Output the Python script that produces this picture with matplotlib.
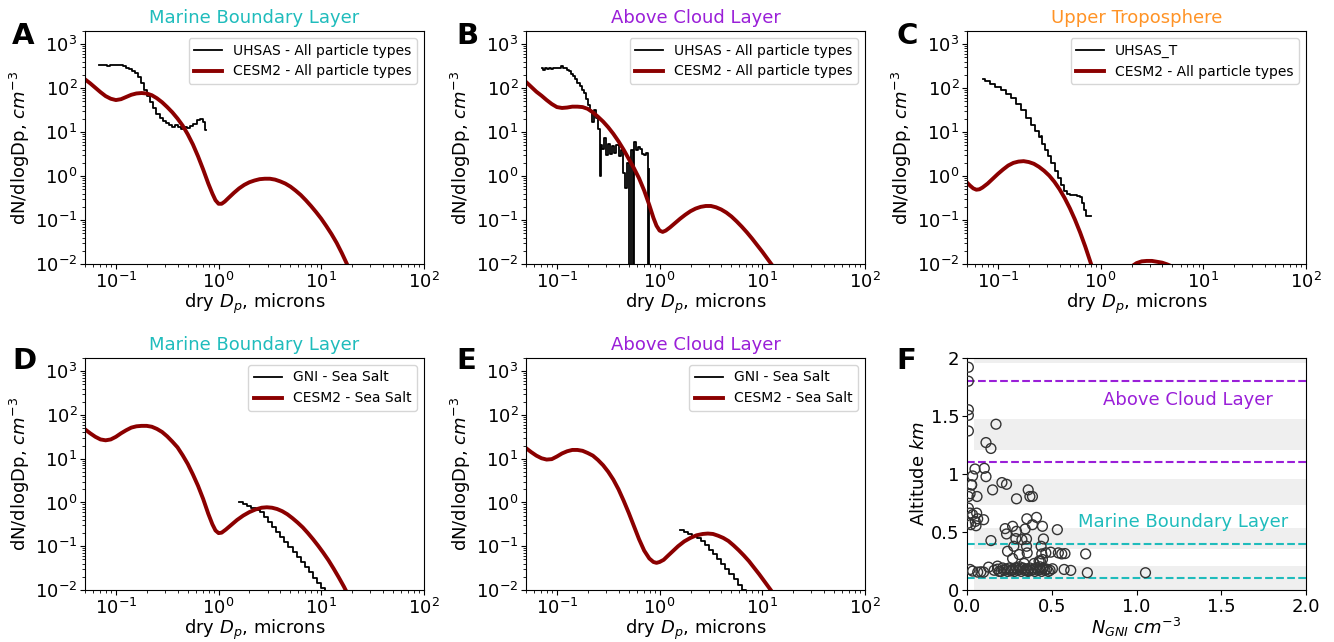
import numpy as np
import matplotlib
matplotlib.use("Agg")
from matplotlib import pyplot as plt

# ---- data (log10 of diameter in microns, log10 of dN/dlogDp) ----
# A : marine boundary layer, all particles
a_uhsas_logd = [-1.16, -1.13, -1.10, -1.07, -1.04, -1.01, -0.98, -0.95, -0.92, -0.89, -0.86, -0.83,
                -0.80, -0.77, -0.74, -0.71, -0.68, -0.65, -0.62, -0.59, -0.56, -0.53, -0.50, -0.47,
                -0.44, -0.41, -0.38, -0.35, -0.32, -0.29, -0.26, -0.23, -0.20, -0.17, -0.14, -0.12]
a_uhsas_logn = [2.53, 2.52, 2.53, 2.50, 2.52, 2.53, 2.52, 2.53, 2.50, 2.47, 2.44, 2.40,
                2.35, 2.25, 2.12, 1.97, 1.82, 1.68, 1.55, 1.42, 1.33, 1.25, 1.20, 1.17,
                1.12, 1.16, 1.11, 1.08, 1.12, 1.10, 1.14, 1.18, 1.28, 1.31, 1.22, 1.05]
a_cesm_logd = [-1.30, -1.25, -1.20, -1.15, -1.10, -1.05, -1.00, -0.95, -0.90, -0.85, -0.80, -0.75,
               -0.70, -0.65, -0.60, -0.55, -0.50, -0.45, -0.40, -0.35, -0.30, -0.25, -0.20, -0.15,
               -0.10, -0.06, -0.03, 0.00, 0.03, 0.06, 0.10, 0.15, 0.20, 0.25, 0.30, 0.35,
               0.40, 0.45, 0.50, 0.55, 0.60, 0.65, 0.70, 0.75, 0.80, 0.85, 0.90, 0.95,
               1.00, 1.05, 1.10, 1.15, 1.20, 1.25, 1.30]
a_cesm_logn = [2.20, 2.11, 2.01, 1.91, 1.82, 1.76, 1.73, 1.75, 1.80, 1.85, 1.88, 1.89,
               1.88, 1.84, 1.77, 1.68, 1.57, 1.45, 1.31, 1.15, 0.95, 0.72, 0.45, 0.15,
               -0.17, -0.40, -0.55, -0.63, -0.63, -0.58, -0.49, -0.38, -0.28, -0.20, -0.14, -0.10,
               -0.07, -0.06, -0.06, -0.08, -0.12, -0.17, -0.24, -0.33, -0.43, -0.55, -0.68, -0.82,
               -0.97, -1.14, -1.32, -1.52, -1.75, -2.00, -2.27]

# B : above cloud layer, all particles (-5 = empty bin)
b_uhsas_logd = [-1.15, -1.13, -1.11, -1.09, -1.07, -1.05, -1.03, -1.01, -0.99, -0.97, -0.95, -0.93,
                -0.91, -0.89, -0.87, -0.85, -0.83, -0.81, -0.79, -0.77, -0.75, -0.73, -0.71, -0.69,
                -0.67, -0.65, -0.63, -0.61, -0.59, -0.58, -0.57, -0.55, -0.53, -0.51, -0.49, -0.47,
                -0.45, -0.43, -0.41, -0.39, -0.37, -0.35, -0.33, -0.31, -0.29, -0.27, -0.255, -0.24,
                -0.22, -0.20, -0.18, -0.16, -0.14, -0.12, -0.11, -0.10]
b_uhsas_logn = [2.45, 2.42, 2.46, 2.43, 2.45, 2.44, 2.46, 2.45, 2.46, 2.45, 2.50, 2.46,
                2.45, 2.42, 2.38, 2.33, 2.27, 2.20, 2.12, 2.05, 1.97, 1.88, 1.76, 1.62,
                1.48, 1.24, 1.50, 1.32, 1.08, 0.00, 0.70, 0.62, 0.86, 0.48, 0.72, 0.50,
                0.68, 0.52, 0.70, 0.45, 0.60, 0.06, -0.28, 0.30, -5.0, 0.59, -5.0, 0.78,
                0.60, 0.67, 0.62, 0.50, 0.48, 0.52, -5.0, 0.17]
b_cesm_logd = [-1.30, -1.25, -1.20, -1.15, -1.10, -1.05, -1.00, -0.95, -0.90, -0.85, -0.80, -0.75,
               -0.70, -0.65, -0.60, -0.55, -0.50, -0.45, -0.40, -0.35, -0.30, -0.25, -0.20, -0.15,
               -0.10, -0.06, -0.03, 0.00, 0.03, 0.06, 0.10, 0.15, 0.20, 0.25, 0.30, 0.35,
               0.40, 0.45, 0.50, 0.55, 0.60, 0.65, 0.70, 0.75, 0.80, 0.85, 0.90, 0.95,
               1.00, 1.05, 1.10, 1.15]
b_cesm_logn = [2.14, 2.03, 1.92, 1.83, 1.73, 1.64, 1.57, 1.55, 1.56, 1.58, 1.58, 1.57,
               1.53, 1.45, 1.35, 1.24, 1.11, 0.96, 0.79, 0.60, 0.39, 0.18, -0.05, -0.33,
               -0.66, -0.95, -1.13, -1.24, -1.27, -1.24, -1.17, -1.07, -0.97, -0.88, -0.80, -0.74,
               -0.70, -0.68, -0.68, -0.71, -0.76, -0.83, -0.92, -1.03, -1.15, -1.28, -1.42, -1.57,
               -1.72, -1.88, -2.04, -2.20]

# C : upper troposphere
c_uhsas_logd = [-1.15, -1.10, -1.05, -1.00, -0.95, -0.90, -0.85, -0.80, -0.75, -0.70, -0.66, -0.62,
                -0.59, -0.58, -0.56, -0.53, -0.50, -0.46, -0.43, -0.40, -0.37, -0.34, -0.31, -0.28,
                -0.25, -0.22, -0.19, -0.17, -0.15, -0.13, -0.09]
c_uhsas_logn = [2.22, 2.16, 2.10, 2.03, 1.95, 1.86, 1.77, 1.64, 1.50, 1.33, 1.16, 1.02,
                0.89, 0.92, 0.74, 0.59, 0.45, 0.29, 0.12, -0.05, -0.20, -0.33, -0.40, -0.42,
                -0.44, -0.45, -0.48, -0.62, -0.78, -0.91, -0.91]
c_cesm_logd = [-1.30, -1.27, -1.24, -1.21, -1.18, -1.15, -1.10, -1.05, -1.00, -0.95, -0.90, -0.85,
               -0.80, -0.75, -0.70, -0.65, -0.60, -0.55, -0.50, -0.45, -0.40, -0.35, -0.30, -0.25,
               -0.20, -0.15, -0.10, -0.05, 0.05, 0.15, 0.25, 0.30, 0.35, 0.40, 0.45, 0.50,
               0.55, 0.60, 0.65, 0.70, 0.80, 0.95, 1.10]
c_cesm_logn = [-0.15, -0.22, -0.28, -0.31, -0.30, -0.26, -0.17, -0.06, 0.05, 0.15, 0.24, 0.30,
               0.33, 0.34, 0.32, 0.28, 0.21, 0.12, 0.01, -0.13, -0.30, -0.50, -0.73, -0.99,
               -1.28, -1.60, -1.95, -2.30, -2.90, -2.60, -2.20, -2.06, -1.98, -1.94, -1.93, -1.93,
               -1.95, -1.97, -2.01, -2.06, -2.30, -2.90, -3.80]

# D : marine boundary layer, sea salt
d_gni_logd = [0.20, 0.24, 0.28, 0.32, 0.36, 0.40, 0.44, 0.48, 0.52, 0.56, 0.60, 0.64,
              0.68, 0.72, 0.76, 0.80, 0.84, 0.88, 0.92, 0.96, 1.00, 1.04]
d_gni_logn = [0.00, -0.04, -0.08, -0.12, -0.17, -0.22, -0.335, -0.45, -0.565, -0.68, -0.795, -0.91,
              -1.025, -1.14, -1.255, -1.37, -1.485, -1.60, -1.715, -1.83, -1.945, -2.06]
d_cesm_logd = [-1.30, -1.25, -1.20, -1.15, -1.10, -1.05, -1.00, -0.95, -0.90, -0.85, -0.80, -0.75,
               -0.70, -0.65, -0.60, -0.55, -0.50, -0.45, -0.40, -0.35, -0.30, -0.25, -0.20, -0.15,
               -0.10, -0.06, -0.03, 0.00, 0.03, 0.07, 0.12, 0.18, 0.24, 0.30, 0.36, 0.42,
               0.47, 0.52, 0.57, 0.62, 0.67, 0.72, 0.77, 0.82, 0.87, 0.92, 0.97, 1.02,
               1.07, 1.12, 1.17, 1.22, 1.27]
d_cesm_logn = [1.67, 1.58, 1.50, 1.44, 1.42, 1.44, 1.50, 1.58, 1.65, 1.71, 1.74, 1.75,
               1.75, 1.73, 1.68, 1.61, 1.51, 1.39, 1.26, 1.08, 0.88, 0.64, 0.38, 0.08,
               -0.26, -0.50, -0.64, -0.70, -0.69, -0.62, -0.52, -0.40, -0.30, -0.22, -0.16, -0.12,
               -0.11, -0.12, -0.15, -0.20, -0.27, -0.36, -0.46, -0.57, -0.70, -0.84, -0.99, -1.15,
               -1.32, -1.51, -1.71, -1.92, -2.15]

# E : above cloud layer, sea salt
e_gni_logd = [0.20, 0.24, 0.28, 0.32, 0.36, 0.40, 0.44, 0.48, 0.52, 0.56, 0.60, 0.64,
              0.68, 0.72, 0.76, 0.80, 0.84]
e_gni_logn = [-0.62, -0.68, -0.72, -0.76, -0.82, -0.88, -0.98, -1.08, -1.18, -1.30, -1.41, -1.52,
              -1.64, -1.76, -1.88, -2.00, -2.12]
e_cesm_logd = [-1.30, -1.25, -1.20, -1.15, -1.10, -1.05, -1.00, -0.95, -0.90, -0.85, -0.80, -0.75,
               -0.70, -0.65, -0.60, -0.55, -0.50, -0.45, -0.40, -0.35, -0.30, -0.25, -0.20, -0.15,
               -0.10, -0.06, -0.03, 0.00, 0.04, 0.08, 0.13, 0.18, 0.24, 0.30, 0.36, 0.42,
               0.47, 0.52, 0.57, 0.62, 0.67, 0.72, 0.77, 0.82, 0.87, 0.92, 0.97, 1.02,
               1.07, 1.12]
e_cesm_logn = [1.24, 1.15, 1.07, 1.01, 0.98, 0.99, 1.05, 1.12, 1.17, 1.20, 1.20, 1.18,
               1.13, 1.07, 0.97, 0.85, 0.70, 0.52, 0.30, 0.04, -0.24, -0.54, -0.84, -1.10,
               -1.28, -1.36, -1.38, -1.36, -1.31, -1.22, -1.11, -1.00, -0.89, -0.81, -0.75, -0.72,
               -0.71, -0.72, -0.76, -0.81, -0.88, -0.98, -1.09, -1.21, -1.34, -1.49, -1.64, -1.80,
               -1.96, -2.12]

# F : GNI number vs altitude
f_n = [0.008, 0.008, 0.008, 0.008, 0.008, 0.027, 0.018, 0.008, 0.008, 0.018, 0.008, 0.022, 0.018, 0.033,
       0.171, 0.112, 0.141, 0.047, 0.102, 0.033, 0.112, 0.027, 0.206, 0.233, 0.151, 0.059, 0.292,
       0.361, 0.371, 0.386, 0.057, 0.033, 0.049, 0.063, 0.098, 0.053, 0.141, 0.225, 0.233, 0.269,
       0.292, 0.288, 0.324, 0.351, 0.343, 0.353, 0.410, 0.386, 0.445, 0.451, 0.533, 0.239, 0.276,
       0.269, 0.308, 0.337, 0.351, 0.355, 0.437, 0.441, 0.433, 0.445, 0.465, 0.494, 0.539, 0.559,
       0.578, 0.700, 0.063, 0.082, 0.098, 0.127, 0.180, 0.16, 0.18, 0.20, 0.21, 0.22, 0.23, 0.24,
       0.25, 0.26, 0.27, 0.28, 0.29, 0.30, 0.31, 0.32, 0.33, 0.34, 0.35, 0.36, 0.37, 0.38, 0.39,
       0.40, 0.41, 0.42, 0.43, 0.44, 0.45, 0.46, 0.47, 0.48, 0.49, 0.504, 0.573, 0.612, 0.710,
       1.053, 0.396, 0.425, 0.19, 0.26, 0.31, 0.36, 0.43]
f_alt = [1.92, 1.80, 1.554, 1.506, 1.371, 0.906, 0.83, 0.806, 0.706, 0.663, 0.577, 0.563, 0.177, 0.163,
         1.429, 1.271, 1.22, 1.043, 1.049, 0.983, 0.977, 0.906, 0.926, 0.911, 0.863, 0.806, 0.786,
         0.863, 0.806, 0.806, 0.663, 0.649, 0.591, 0.614, 0.606, 0.554, 0.426, 0.529, 0.483, 0.549,
         0.506, 0.443, 0.434, 0.44, 0.526, 0.614, 0.626, 0.563, 0.549, 0.44, 0.52, 0.334, 0.377,
         0.271, 0.306, 0.229, 0.377, 0.32, 0.377, 0.311, 0.249, 0.263, 0.32, 0.326, 0.32, 0.311,
         0.314, 0.311, 0.154, 0.157, 0.154, 0.197, 0.206, 0.17, 0.18, 0.16, 0.19, 0.17, 0.18, 0.16,
         0.19, 0.17, 0.18, 0.16, 0.19, 0.17, 0.18, 0.16, 0.19, 0.17, 0.18, 0.16, 0.19, 0.17, 0.18,
         0.16, 0.19, 0.17, 0.18, 0.16, 0.19, 0.17, 0.18, 0.16, 0.17, 0.183, 0.177, 0.169, 0.149,
         0.149, 0.229, 0.249, 0.16, 0.165, 0.2, 0.165, 0.2]
f_bands = [(0.0, 0.206), (0.354, 0.534), (0.729, 0.954), (1.203, 1.471), (1.954, 2.0)]
f_cloud_lines = [1.8, 1.1]
f_mbl_lines = [0.4, 0.1]

MBL = '#1fbcbc'
ACL = '#9a1fd8'
UT = '#ff9326'
RED = '#8b0000'
FS = 13

fig = plt.figure(figsize=(13.34, 6.42), dpi=100)
lefts = [0.0637, 0.3943, 0.7249]
W = 0.2541
top_b, top_h = 0.5888, 0.3629
bot_b, bot_h = 0.0810, 0.3614


def size_panel(ax, logd_obs, logn_obs, obs_label, logd_mod, logn_mod, mod_label, title, tcolor, steps=False):
    d = 10 ** np.array(logd_obs)
    n = 10 ** np.array(logn_obs)
    ds = 'steps-post' if steps else 'steps-mid'
    ax.plot(d, n, color='k', lw=1.3, drawstyle=ds, label=obs_label)
    ax.plot(10 ** np.array(logd_mod), 10 ** np.array(logn_mod), color=RED, lw=2.8, label=mod_label)
    ax.set_xscale('log')
    ax.set_yscale('log')
    ax.set_xlim(0.05, 100)
    ax.set_ylim(0.01, 2000)
    ax.set_xticks([0.1, 1, 10, 100])
    ax.set_yticks([0.01, 0.1, 1, 10, 100, 1000])
    ax.tick_params(labelsize=FS, pad=2)
    ax.set_xlabel('dry $D_p$, microns', fontsize=FS, labelpad=0)
    ax.set_ylabel('dN/dlogDp, $cm^{-3}$', fontsize=FS, labelpad=2)
    ax.set_title(title, color=tcolor, fontsize=FS)
    ax.legend(loc='upper right', fontsize=10)


axA = fig.add_axes([lefts[0], top_b, W, top_h])
size_panel(axA, a_uhsas_logd, a_uhsas_logn, 'UHSAS - All particle types',
           a_cesm_logd, a_cesm_logn, 'CESM2 - All particle types', 'Marine Boundary Layer', MBL)
axB = fig.add_axes([lefts[1], top_b, W, top_h])
size_panel(axB, b_uhsas_logd, b_uhsas_logn, 'UHSAS - All particle types',
           b_cesm_logd, b_cesm_logn, 'CESM2 - All particle types', 'Above Cloud Layer', ACL)
axC = fig.add_axes([lefts[2], top_b, W, top_h])
size_panel(axC, c_uhsas_logd, c_uhsas_logn, 'UHSAS_T',
           c_cesm_logd, c_cesm_logn, 'CESM2 - All particle types', 'Upper Troposphere', UT)
axD = fig.add_axes([lefts[0], bot_b, W, bot_h])
size_panel(axD, d_gni_logd, d_gni_logn, 'GNI - Sea Salt',
           d_cesm_logd, d_cesm_logn, 'CESM2 - Sea Salt', 'Marine Boundary Layer', MBL, steps=True)
axE = fig.add_axes([lefts[1], bot_b, W, bot_h])
size_panel(axE, e_gni_logd, e_gni_logn, 'GNI - Sea Salt',
           e_cesm_logd, e_cesm_logn, 'CESM2 - Sea Salt', 'Above Cloud Layer', ACL, steps=True)

# F : altitude scatter
axF = fig.add_axes([lefts[2], bot_b, W, bot_h])
for y0, y1 in f_bands:
    axF.axhspan(y0, y1, xmin=0.02, xmax=1, color='#efefef', zorder=0, lw=0)
for y in f_cloud_lines:
    axF.axhline(y, color=ACL, ls='--', lw=1.5)
for y in f_mbl_lines:
    axF.axhline(y, color=MBL, ls='--', lw=1.5)
axF.scatter(f_n, f_alt, s=50, facecolors='none', edgecolors='#333333', linewidths=1.0, zorder=3)
axF.text(0.8, 1.64, 'Above Cloud Layer', color=ACL, fontsize=FS, va='center')
axF.text(0.657, 0.59, 'Marine Boundary Layer', color=MBL, fontsize=FS, va='center')
axF.set_xlim(0, 2)
axF.set_ylim(0, 2)
axF.set_xticks([0, 0.5, 1, 1.5, 2])
axF.set_yticks([0, 0.5, 1, 1.5, 2])
axF.set_yticklabels(['0', '0.5', '1', '1.5', '2'])
axF.tick_params(labelsize=FS, pad=2)
axF.set_xlabel('$N_{GNI}$ $cm^{-3}$', fontsize=FS, labelpad=0)
axF.set_ylabel('Altitude $km$', fontsize=FS, labelpad=2)

# panel letters
for lab, x, y in [('A', 0.009, 0.965), ('B', 0.342, 0.965), ('C', 0.672, 0.965),
                  ('D', 0.009, 0.46), ('E', 0.342, 0.46), ('F', 0.672, 0.46)]:
    fig.text(x, y, lab, fontsize=21, fontweight='bold', va='top', ha='left')

fig.savefig('out.png', dpi=100)
